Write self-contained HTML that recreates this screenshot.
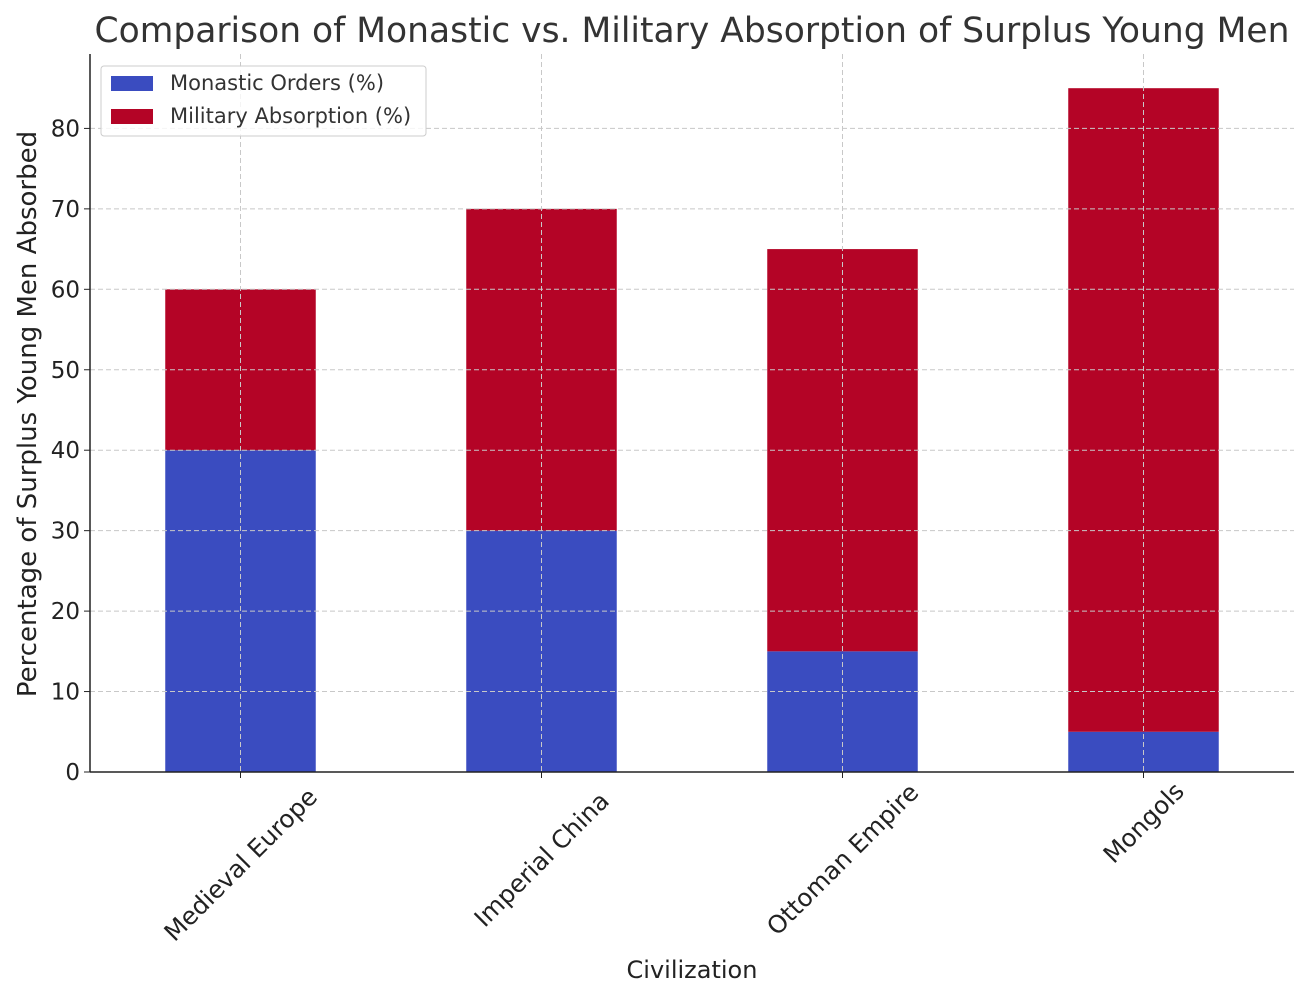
<!DOCTYPE html>
<html><head><meta charset="utf-8"><style>
body{margin:0;background:#fff;}
svg{display:block;font-family:"DejaVu Sans","Liberation Sans",sans-serif;}
</style></head><body>
<svg id="chart" width="1309" height="1000">
<text x="692" y="42" text-anchor="middle" font-size="34.5" fill="#333">Comparison of Monastic vs. Military Absorption of Surplus Young Men</text>
<g id="grid"></g>
<g id="bars"></g>
<g id="axes"></g>
<text x="692" y="978" text-anchor="middle" font-size="24" fill="#222">Civilization</text>
<text transform="translate(36,414) rotate(-90)" text-anchor="middle" font-size="26" fill="#222">Percentage of Surplus Young Men Absorbed</text>
<g>
<rect x="101" y="66" width="325" height="70" rx="3" fill="#fff" fill-opacity="0.8" stroke="#ccc"/>
<rect x="111" y="76" width="42" height="15" fill="#3a4cc0"/>
<text x="170" y="90" font-size="21" fill="#333">Monastic Orders (%)</text>
<rect x="111" y="109" width="42" height="15" fill="#b40426"/>
<text x="170" y="123" font-size="21" fill="#333">Military Absorption (%)</text>
</g>
</svg>
<script>
const categories=["Medieval Europe","Imperial China","Ottoman Empire","Mongols"];
const monastic=[40,30,15,5];
const military=[20,40,50,80];
const yTicks=[0,10,20,30,40,50,60,70,80];
const NS="http://www.w3.org/2000/svg";
const L=90,R=1294,T=54,B=772,yMax=89.25;
const step=(R-L)/categories.length;
const xc=i=>L+step*(i+0.5);
const y=v=>B-v*(B-T)/yMax;
const bw=step*0.5;
function mk(tag,attrs,parent){const e=document.createElementNS(NS,tag);for(const k in attrs)e.setAttribute(k,attrs[k]);parent.appendChild(e);return e;}
const grid=document.getElementById('grid'),bars=document.getElementById('bars'),axes=document.getElementById('axes');
yTicks.forEach(t=>{
 const g=mk('line',{x1:L,x2:R,y1:y(t),y2:y(t),stroke:'#c8c8c8','stroke-dasharray':'5,3','stroke-width':1},grid);
 
 
 const tk=mk('line',{x1:L-6,x2:L,y1:y(t),y2:y(t),stroke:'#222'},axes);
 
 
 const lb=mk('text',{x:L-10,y:y(t)+8,'text-anchor':'end','font-size':23,fill:'#222'},axes);
 lb.textContent=t;
 
 
});
categories.forEach((c,i)=>{
 const x=xc(i);
 const g=mk('line',{x1:x,x2:x,y1:T,y2:B,stroke:'#c8c8c8','stroke-dasharray':'5,3'},grid);
 
 
 const b1=mk('rect',{x:x-bw/2,y:y(monastic[i]),width:bw,height:B-y(monastic[i]),fill:'#3a4cc0'},bars);
 
 
 const top=monastic[i]+military[i];
 const b2=mk('rect',{x:x-bw/2,y:y(top),width:bw,height:y(monastic[i])-y(top),fill:'#b40426'},bars);
 
 
 const tk=mk('line',{x1:x,x2:x,y1:B,y2:B+6,stroke:'#222'},axes);
 
 
 const len=c.length*14.8*0.7071;
 const lb=mk('text',{transform:`translate(${x},${B+14+len/2}) rotate(-45)`,'text-anchor':'middle',dy:'0.35em','font-size':24.5,fill:'#222'},axes);
 lb.textContent=c;
 
 
});
bars.parentNode.insertBefore(bars,grid);
const ax=mk('line',{x1:L,x2:L,y1:T,y2:B,stroke:'#222','stroke-width':1.5},axes);


const bx=mk('line',{x1:L,x2:R,y1:B,y2:B,stroke:'#222','stroke-width':1.5},axes);


</script>
</body></html>
